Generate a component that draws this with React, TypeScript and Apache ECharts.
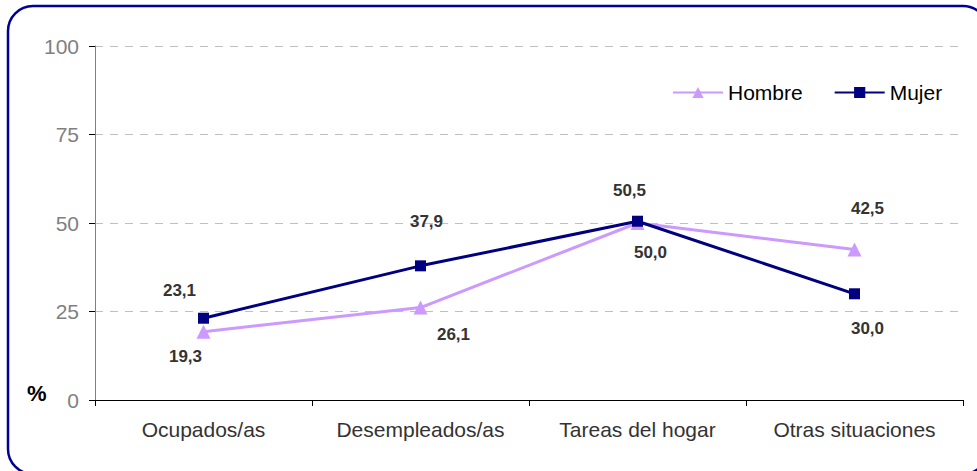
import React, { useEffect, useRef } from "react";
import * as echarts from "echarts";

const categories = ["Ocupados/as", "Desempleados/as", "Tareas del hogar", "Otras situaciones"];
const hombre = [19.3, 26.1, 50.0, 42.5];
const mujer = [23.1, 37.9, 50.5, 30.0];
const yTicks = [0, 25, 50, 75, 100];

const fmt = (v: number) => v.toFixed(1).replace(".", ",");

export default function App() {
  const ref = useRef<HTMLDivElement>(null);
  useEffect(() => {
    if (!ref.current) return;
    const chart = echarts.init(ref.current, undefined, { renderer: "svg" });
    const hombreOffsets = [[-18, 25], [33, 27], [13, 29], [13, -41]];
    const mujerOffsets = [[-24, -28], [6, -44], [-8, -31], [13, 35]];
    const font = "Arial, 'Liberation Sans', sans-serif";
    const labelStyle = {
      show: true,
      position: "inside",
      fontFamily: font,
      fontWeight: "bold",
      fontSize: 17,
      color: "#333333",
      formatter: (p: any) => fmt(p.value),
    };
    chart.setOption({
      animation: false,
      backgroundColor: "#ffffff",
      grid: { left: 95, right: 14, top: 46, bottom: 71, containLabel: false },
      legend: {
        left: 667,
        top: 77,
        itemWidth: 50,
        itemHeight: 14,
        itemGap: 31,
        textStyle: { fontFamily: font, fontSize: 21, color: "#000000" },
        data: ["Hombre", "Mujer"],
      },
      xAxis: {
        type: "category",
        data: categories,
        boundaryGap: true,
        axisLine: { lineStyle: { color: "#000000", width: 1 } },
        axisTick: { show: true, interval: 0, length: 6, lineStyle: { color: "#000000" } },
        axisLabel: {
          interval: 0,
          hideOverlap: false,
          margin: 19,
          fontFamily: font,
          fontSize: 21,
          color: "#333333",
        },
      },
      yAxis: {
        type: "value",
        min: yTicks[0],
        max: yTicks[yTicks.length - 1],
        interval: yTicks[1] - yTicks[0],
        axisLine: { show: true, lineStyle: { color: "#808080", width: 1 } },
        axisTick: { show: true, length: 6, lineStyle: { color: "#000000" } },
        axisLabel: {
          margin: 16,
          fontFamily: font,
          fontSize: 21,
          color: "#808080",
        },
        splitLine: { show: true, lineStyle: { color: "#c0c0c0", type: [8, 7], width: 1 } },
      },
      series: [
        {
          name: "Hombre",
          type: "line",
          data: hombre.map((v, i) => ({
            value: v,
            label: { ...labelStyle, offset: hombreOffsets[i] },
          })),
          symbol: "triangle",
          symbolSize: 14,
          lineStyle: { color: "#cc99ff", width: 3 },
          itemStyle: { color: "#cc99ff" },
          z: 2,
        },
        {
          name: "Mujer",
          type: "line",
          data: mujer.map((v, i) => ({
            value: v,
            label: { ...labelStyle, offset: mujerOffsets[i] },
          })),
          symbol: "rect",
          symbolSize: 11,
          lineStyle: { color: "#000080", width: 3 },
          itemStyle: { color: "#000080" },
          z: 3,
        },
      ],
      graphic: [
        {
          type: "rect",
          shape: { x: 8, y: 6, width: 980, height: 468, r: 25 },
          style: { fill: "none", stroke: "#000099", lineWidth: 2.5 },
          silent: true,
        },
        {
          type: "text",
          left: 27,
          top: 382,
          style: {
            text: "%",
            fontFamily: font,
            fontWeight: "bold",
            fontSize: 22,
            fill: "#000000",
          },
        },
      ],
    });
    return () => chart.dispose();
  }, []);
  return (
    <div
      ref={ref}
      style={{ position: "fixed", left: 0, top: 0, width: 977, height: 471, background: "#fff" }}
    />
  );
}
